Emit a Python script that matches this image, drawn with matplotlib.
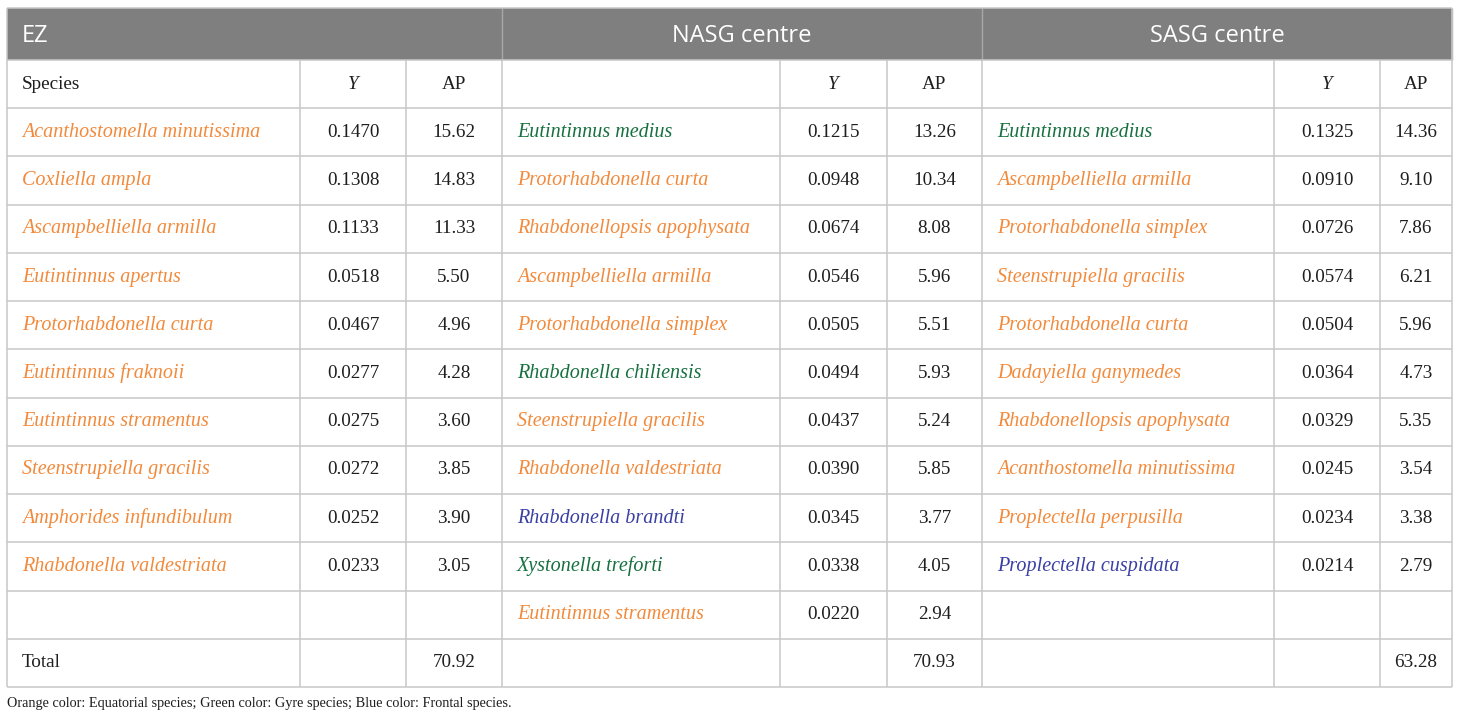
import matplotlib.pyplot as plt

# table content
groups = ["EZ", "NASG centre", "SASG centre"]

ez_species = ["Acanthostomella minutissima", "Coxliella ampla", "Ascampbelliella armilla",
              "Eutintinnus apertus", "Protorhabdonella curta", "Eutintinnus fraknoii",
              "Eutintinnus stramentus", "Steenstrupiella gracilis", "Amphorides infundibulum",
              "Rhabdonella valdestriata"]
ez_y = ["0.1470", "0.1308", "0.1133", "0.0518", "0.0467", "0.0277", "0.0275", "0.0272", "0.0252", "0.0233"]
ez_ap = ["15.62", "14.83", "11.33", "5.50", "4.96", "4.28", "3.60", "3.85", "3.90", "3.05"]
ez_type = ["E"] * 10

nasg_species = ["Eutintinnus medius", "Protorhabdonella curta", "Rhabdonellopsis apophysata",
                "Ascampbelliella armilla", "Protorhabdonella simplex", "Rhabdonella chiliensis",
                "Steenstrupiella gracilis", "Rhabdonella valdestriata", "Rhabdonella brandti",
                "Xystonella treforti", "Eutintinnus stramentus"]
nasg_y = ["0.1215", "0.0948", "0.0674", "0.0546", "0.0505", "0.0494", "0.0437", "0.0390", "0.0345", "0.0338", "0.0220"]
nasg_ap = ["13.26", "10.34", "8.08", "5.96", "5.51", "5.93", "5.24", "5.85", "3.77", "4.05", "2.94"]
nasg_type = ["G", "E", "E", "E", "E", "G", "E", "E", "F", "G", "E"]

sasg_species = ["Eutintinnus medius", "Ascampbelliella armilla", "Protorhabdonella simplex",
                "Steenstrupiella gracilis", "Protorhabdonella curta", "Dadayiella ganymedes",
                "Rhabdonellopsis apophysata", "Acanthostomella minutissima", "Proplectella perpusilla",
                "Proplectella cuspidata"]
sasg_y = ["0.1325", "0.0910", "0.0726", "0.0574", "0.0504", "0.0364", "0.0329", "0.0245", "0.0234", "0.0214"]
sasg_ap = ["14.36", "9.10", "7.86", "6.21", "5.96", "4.73", "5.35", "3.54", "3.38", "2.79"]
sasg_type = ["G", "E", "E", "E", "E", "E", "E", "E", "E", "F"]

totals = ["70.92", "70.93", "63.28"]
caption = "Orange color: Equatorial species; Green color: Gyre species; Blue color: Frontal species."

type_colors = {"E": "#f28a3c", "G": "#17703f", "F": "#3a40a3"}

# layout in pixels
W, H = 1460, 725
col_edges = [7, 300, 406, 502, 780, 887, 982, 1274, 1380, 1452]
top, head_bot = 8, 60
n_rows = 13
row_h = (687 - head_bot) / n_rows
row_edges = [head_bot + i * row_h for i in range(n_rows + 1)]
line_c = "#c8c8c8"
txt_c = "#1e1e1e"

fig = plt.figure(figsize=(W / 100, H / 100), dpi=100)
ax = fig.add_axes([0, 0, 1, 1])
ax.set_xlim(0, W)
ax.set_ylim(H, 0)
ax.axis("off")

serif = "Liberation Serif"
sans = "Open Sans"
fs_sp = 14.5
fs = 13.8

# header band
ax.add_patch(plt.Rectangle((col_edges[0], top), col_edges[-1] - col_edges[0], head_bot - top,
                           color="#7f7f7f", lw=0))
hy = (top + head_bot) / 2 + 2
for g in range(3):
    x0, x1 = col_edges[3 * g], col_edges[3 * g + 3]
    ax.vlines(x1, top, head_bot, color="#a8a8a8", lw=1)
    if g == 0:
        ax.text(x0 + 15, hy, groups[g], color="white", family=sans,
                fontsize=17, va="center", ha="left")
    else:
        ax.text((x0 + x1) / 2, hy, groups[g], color="white", family=sans,
                fontsize=17, va="center", ha="center")

# grid lines
for y in row_edges:
    ax.hlines(y, col_edges[0], col_edges[-1], color=line_c, lw=1.1)
for x in col_edges:
    ax.vlines(x, head_bot, row_edges[-1], color=line_c, lw=1.1)
ax.vlines(col_edges[0], top, head_bot, color=line_c, lw=1.1)
ax.vlines(col_edges[-1], top, head_bot, color=line_c, lw=1.1)
ax.hlines(top, col_edges[0], col_edges[-1], color=line_c, lw=1.1)


def cy(i):
    return (row_edges[i] + row_edges[i + 1]) / 2


blocks = [(ez_species, ez_y, ez_ap, ez_type),
          (nasg_species, nasg_y, nasg_ap, nasg_type),
          (sasg_species, sasg_y, sasg_ap, sasg_type)]

for g, (sp, yv, ap, tp) in enumerate(blocks):
    xs, xy, xa, xe = col_edges[3 * g:3 * g + 4]
    # column header row
    if g == 0:
        ax.text(xs + 15, cy(0), "Species", family=serif, fontsize=fs, va="center", color=txt_c)
    ax.text((xy + xa) / 2, cy(0), "Y", family=serif, style="italic", fontsize=fs,
            va="center", ha="center", color=txt_c)
    ax.text((xa + xe) / 2, cy(0), "AP", family=serif, fontsize=fs,
            va="center", ha="center", color=txt_c)
    for i in range(len(sp)):
        ax.text(xs + 15, cy(i + 1), sp[i], family=serif, style="italic", fontsize=fs_sp,
                va="center", color=type_colors[tp[i]])
        ax.text((xy + xa) / 2, cy(i + 1), yv[i], family=serif, fontsize=fs,
                va="center", ha="center", color=txt_c)
        ax.text((xa + xe) / 2, cy(i + 1), ap[i], family=serif, fontsize=fs,
                va="center", ha="center", color=txt_c)
    ax.text((xa + xe) / 2, cy(12), totals[g], family=serif, fontsize=fs,
            va="center", ha="center", color=txt_c)

ax.text(22, cy(12), "Total", family=serif, fontsize=fs, va="center", color=txt_c)
ax.text(7, 704, caption, family=serif, fontsize=10.3, va="center", ha="left", color=txt_c)

fig.savefig("out.png", dpi=100, facecolor="white")
